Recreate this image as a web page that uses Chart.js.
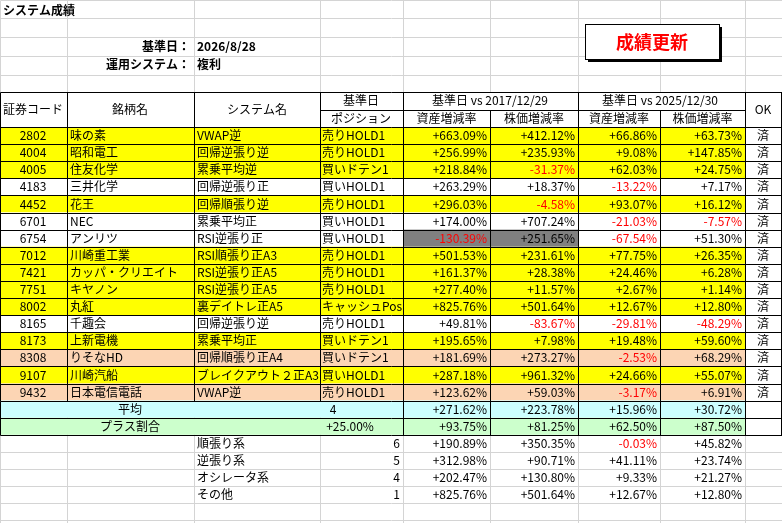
<!DOCTYPE html>
<html>
<head>
<meta charset="utf-8">
<script src="https://cdn.jsdelivr.net/npm/chart.js@4"></script>
<style>body{margin:0;background:#fff}</style>
</head>
<body>
<canvas id="sheet" width="782" height="523"></canvas>
<script>
// table data
const codes = ['2802','4004','4005','4183','4452','6701','6754','7012','7421','7751','8002','8165','8173','8308','9107','9432'];
const names = ['味の素','昭和電工','住友化学','三井化学','花王','NEC','アンリツ','川崎重工業','カッパ・クリエイト','キヤノン','丸紅','千趣会','上新電機','りそなHD','川崎汽船','日本電信電話'];
const systems = ['VWAP逆','回帰逆張り逆','累乗平均逆','回帰逆張り正','回帰順張り逆','累乗平均正','RSI逆張り正','RSI順張り正A3','RSI逆張り正A5','RSI逆張り正A5','裏デイトレ正A5','回帰逆張り逆','累乗平均正','回帰順張り正A4','ブレイクアウト２正A3','VWAP逆'];
const positions = ['売りHOLD1','売りHOLD1','買いドテン1','買いHOLD1','売りHOLD1','買いHOLD1','買いHOLD1','売りHOLD1','売りHOLD1','売りHOLD1','キャッシュPos','売りHOLD1','買いドテン1','買いドテン1','買いHOLD1','売りHOLD1'];
const asset17 = [663.09,256.99,218.84,263.29,296.03,174.00,-130.39,501.53,161.37,277.40,825.76,49.81,195.65,181.69,287.18,123.62];
const stock17 = [412.12,235.93,-31.37,18.37,-4.58,707.24,251.65,231.61,28.38,11.57,501.64,-83.67,7.98,273.27,961.32,59.03];
const asset25 = [66.86,9.08,62.03,-13.22,93.07,-21.03,-67.54,77.75,24.46,2.67,12.67,-29.81,19.48,-2.53,24.66,-3.17];
const stock25 = [63.73,147.85,24.75,7.17,16.12,-7.57,51.30,26.35,6.28,1.14,12.80,-48.29,59.60,68.29,55.07,6.91];
const rowKind = ['y','y','y','w','y','w','w','y','y','y','y','w','y','o','y','o'];
const avgVals = [271.62,223.78,15.96,30.72];
const plusVals = [93.75,81.25,62.50,87.50];
const groups = ['順張り系','逆張り系','オシレータ系','その他'];
const groupCounts = [6,5,4,1];
const groupVals = [[190.89,350.35,-0.03,45.82],[312.98,90.71,41.11,23.74],[202.47,130.80,9.33,21.27],[825.76,501.64,12.67,12.80]];

const colX = [0,67,194,320,403,490,578,660,745,782];
const RH = 17.1, DATA_TOP = 127;
const FONT = '"Noto Sans CJK JP", sans-serif';

function pct(v) { return (v >= 0 ? '+' : '') + v.toFixed(2) + '%'; }

const tablePlugin = {
    id: 'table',
    afterDraw(chart) {
        const ctx = chart.ctx, sx = chart.scales.x, sy = chart.scales.y;
        const X = v => sx.getPixelForValue(v), Y = v => sy.getPixelForValue(v);
        const rowTop = i => DATA_TOP + i * RH;
        function text(s, x, y, align, color, bold, size) {
            ctx.font = (bold ? 'bold ' : '') + (size || 12) + 'px ' + FONT;
            ctx.fillStyle = color || '#000';
            ctx.textAlign = align || 'left';
            ctx.textBaseline = 'middle';
            ctx.fillText(s, X(x), Y(y));
        }
        function line(x1, y1, x2, y2, c) {
            ctx.strokeStyle = c; ctx.lineWidth = 1;
            ctx.beginPath();
            ctx.moveTo(Math.round(X(x1)) + 0.5, Math.round(Y(y1)) + 0.5);
            ctx.lineTo(Math.round(X(x2)) + 0.5, Math.round(Y(y2)) + 0.5);
            ctx.stroke();
        }
        function fill(x1, y1, x2, y2, c) {
            ctx.fillStyle = c;
            ctx.fillRect(X(x1), Y(y1), X(x2) - X(x1), Y(y2) - Y(y1));
        }
        ctx.save();
        // excel gridlines
        const grid = '#d4d4d4';
        const topRows = [0,18,37,56,75,92];
        topRows.forEach(r => line(0, r, 782, r, grid));
        for (let i = 0; i <= 6; i++) line(0, rowTop(18) + i * RH - RH, 782, rowTop(18) + i * RH - RH, grid);
        colX.forEach(c => line(c, 0, c, 523, grid));

        // row fills
        const kindColor = { y: '#ffff00', o: '#fcd5b4', w: '#ffffff' };
        rowKind.forEach((k, i) => fill(0, rowTop(i), 745, rowTop(i + 1), kindColor[k]));
        fill(403, rowTop(6), 578, rowTop(7), '#808080');
        fill(0, rowTop(16), 745, rowTop(17), '#ccffff');
        fill(0, rowTop(17), 745, rowTop(18), '#ccffcc');
        fill(0, 92, 782, 127, '#ffffff');
        fill(745, rowTop(0), 782, rowTop(18), '#ffffff');

        // table borders
        const tb = '#000';
        line(0, 92, 782, 92, tb);
        line(403, 110, 745, 110, tb);
        line(320, 110, 403, 110, tb);
        for (let i = 0; i <= 18; i++) line(0, rowTop(i), 782, rowTop(i), tb);
        [0,67,194,320,403,578,745,781].forEach(c => line(c, 92, c, rowTop(16), tb));
        [490,660].forEach(c => line(c, 110, c, rowTop(16), tb));
        [403,490,578,660,745,781].forEach(c => line(c, rowTop(16), c, rowTop(18), tb));
        line(0, rowTop(16), 0, rowTop(18), tb);

        // title area
        text('システム成績', 3, 10, 'left', '#000', true);
        text('基準日：', 190, 46, 'right', '#000', true);
        text('2026/8/28', 197, 46, 'left', '#000', true);
        text('運用システム：', 190, 64, 'right', '#000', true);
        text('複利', 197, 64, 'left', '#000', true);
        // button
        fill(588, 27, 722, 62, '#000');
        fill(585, 24, 719, 59, '#fff');
        ctx.strokeStyle = '#000'; ctx.strokeRect(X(585) + 0.5, Y(24) + 0.5, 134, 35);
        text('成績更新', 652, 42, 'center', '#ff0000', true, 18);

        // headers
        text('証券コード', 33, 109, 'center');
        text('銘柄名', 130, 109, 'center');
        text('システム名', 257, 109, 'center');
        text('基準日', 361, 100, 'center');
        text('ポジション', 361, 118, 'center');
        text('基準日 vs 2017/12/29', 490, 100, 'center');
        text('基準日 vs 2025/12/30', 660, 100, 'center');
        ['資産増減率','株価増減率','資産増減率','株価増減率'].forEach((s, j) =>
            text(s, (colX[4 + j] + colX[5 + j]) / 2, 118, 'center'));
        text('OK', 763, 109, 'center');

        // data rows
        codes.forEach((c, i) => {
            const cy = rowTop(i) + RH / 2;
            text(c, 33, cy, 'center');
            text(names[i], 70, cy);
            text(systems[i], 197, cy);
            text(positions[i], 322, cy);
            [asset17[i], stock17[i], asset25[i], stock25[i]].forEach((v, j) =>
                text(pct(v), colX[5 + j] - 3, cy, 'right', v < 0 ? '#ff0000' : '#000'));
            text('済', 763, cy, 'center');
        });
        let cy = rowTop(16) + RH / 2;
        text('平均', 130, cy, 'center');
        text('4', 333, cy, 'center');
        avgVals.forEach((v, j) => text(pct(v), colX[5 + j] - 3, cy, 'right'));
        cy = rowTop(17) + RH / 2;
        text('プラス割合', 130, cy, 'center');
        text('+25.00%', 350, cy, 'center');
        plusVals.forEach((v, j) => text(pct(v), colX[5 + j] - 3, cy, 'right'));
        groups.forEach((g, k) => {
            const gy = rowTop(18 + k) + RH / 2;
            text(g, 197, gy);
            text(String(groupCounts[k]), 400, gy, 'right');
            groupVals[k].forEach((v, j) => text(pct(v), colX[5 + j] - 3, gy, 'right', v < 0 ? '#ff0000' : '#000'));
        });
        ctx.restore();
    }
};

new Chart(document.getElementById('sheet'), {
    type: 'scatter',
    data: { datasets: [{ data: [] }] },
    options: {
        responsive: false,
        animation: false,
        devicePixelRatio: 1,
        layout: { padding: 0 },
        plugins: { legend: { display: false }, tooltip: { enabled: false } },
        scales: {
            x: { type: 'linear', min: 0, max: 782, display: false },
            y: { type: 'linear', min: 0, max: 523, reverse: true, display: false }
        }
    },
    plugins: [tablePlugin]
});
</script>
</body>
</html>
